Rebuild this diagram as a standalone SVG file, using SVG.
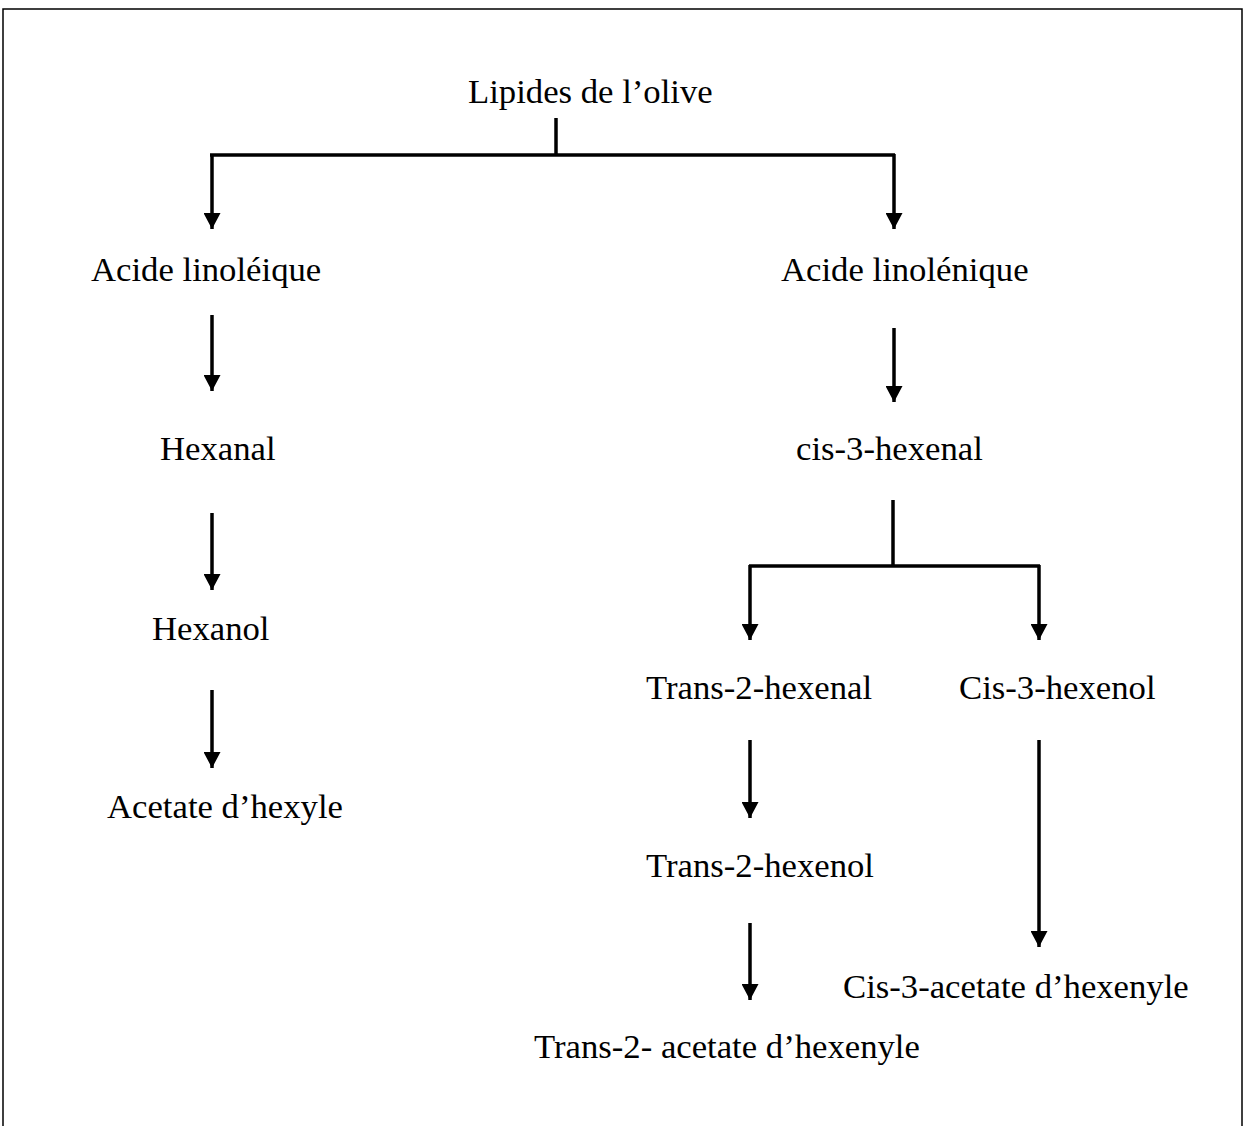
<svg xmlns="http://www.w3.org/2000/svg" width="1245" height="1126" viewBox="0 0 1245 1126">
<style>
.t{font-family:"Liberation Serif","Times New Roman",serif;font-size:34.7px;fill:#000}
.c{stroke:#000;stroke-width:3.5;fill:none}
.b{stroke:#000;stroke-width:1.5;fill:none}
</style>
<defs>
<marker id="ah" viewBox="0 0 16 17" refX="16" refY="8.5" markerWidth="16" markerHeight="17" markerUnits="userSpaceOnUse" orient="auto">
<path d="M0,0 L16,8.5 L0,17 z" fill="#000"/>
</marker>
</defs>
<rect width="1245" height="1126" fill="#fff"/>
<path class="b" d="M3,1130 V9 H1242 V1130"/>
<g id="connectors">
<path class="c" d="M556,118 V155"/>
<path class="c" d="M210,155 H895"/>
<path class="c" d="M212,154 V229" marker-end="url(#ah)"/>
<path class="c" d="M894,154 V229" marker-end="url(#ah)"/>
<path class="c" d="M212,315 V391" marker-end="url(#ah)"/>
<path class="c" d="M894,328 V402" marker-end="url(#ah)"/>
<path class="c" d="M212,513 V590" marker-end="url(#ah)"/>
<path class="c" d="M893,500 V566"/>
<path class="c" d="M749,566 H1040"/>
<path class="c" d="M750,565 V640" marker-end="url(#ah)"/>
<path class="c" d="M1039,565 V640" marker-end="url(#ah)"/>
<path class="c" d="M212,690 V768" marker-end="url(#ah)"/>
<path class="c" d="M750,740 V818" marker-end="url(#ah)"/>
<path class="c" d="M1039,740 V947" marker-end="url(#ah)"/>
<path class="c" d="M750,923 V1000" marker-end="url(#ah)"/>
</g>
<g id="lipides"><text class="t" x="468" y="103">Lipides de l’olive</text></g>
<g id="acide-linoleique"><text class="t" x="91" y="281">Acide linoléique</text></g>
<g id="acide-linolenique"><text class="t" x="781" y="281">Acide linolénique</text></g>
<g id="hexanal"><text class="t" x="160" y="460">Hexanal</text></g>
<g id="cis-3-hexenal"><text class="t" x="796" y="460">cis-3-hexenal</text></g>
<g id="hexanol"><text class="t" x="152" y="640">Hexanol</text></g>
<g id="trans-2-hexenal"><text class="t" x="646" y="699">Trans-2-hexenal</text></g>
<g id="cis-3-hexenol"><text class="t" x="959" y="699">Cis-3-hexenol</text></g>
<g id="acetate-hexyle"><text class="t" x="107" y="818">Acetate d’hexyle</text></g>
<g id="trans-2-hexenol"><text class="t" x="646" y="877">Trans-2-hexenol</text></g>
<g id="cis-3-acetate"><text class="t" x="843" y="998">Cis-3-acetate d’hexenyle</text></g>
<g id="trans-2-acetate"><text class="t" x="534" y="1058">Trans-2- acetate d’hexenyle</text></g>
</svg>
